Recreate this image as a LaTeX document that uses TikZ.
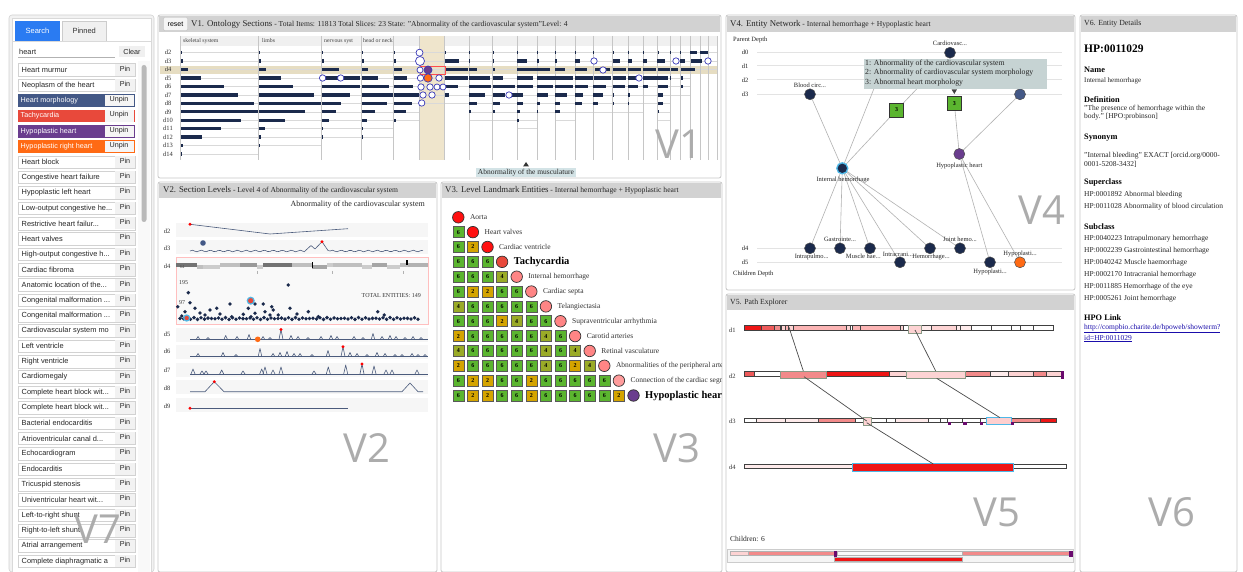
\documentclass[tikz,border=0pt]{standalone}
\usepackage{fontspec}
\setmainfont{Liberation Serif}
\newfontfamily\uisans{Liberation Sans}
\newfontfamily\bigsans{Open Sans}
\newcommand\trd{...}
\definecolor{navy}{HTML}{1B2A4C}
\definecolor{hdrgray}{HTML}{D2D2D2}
\definecolor{panelline}{HTML}{C8C8C8}
\definecolor{beige}{HTML}{EFE5CC}
\definecolor{beigerow}{HTML}{E6DDC2}
\definecolor{ringblue}{HTML}{3A3AB8}
\definecolor{hpurple}{HTML}{6A3D8E}
\definecolor{horange}{HTML}{FF6A14}
\definecolor{hred}{HTML}{E8493B}
\definecolor{hsteel}{HTML}{435886}
\definecolor{sqc6}{HTML}{5BB52F}
\definecolor{sqc4}{HTML}{9AAB27}
\definecolor{sqc2}{HTML}{D4A400}
\definecolor{lred}{HTML}{FF1010}
\definecolor{pinkc}{HTML}{FF8585}
\definecolor{pinkl}{HTML}{FF9C9C}
\definecolor{tipbg}{HTML}{C6D3D3}
\definecolor{sparkc}{HTML}{4B5B7C}
\definecolor{rA}{HTML}{EE1515}
\definecolor{rB}{HTML}{EE5A5A}
\definecolor{rC}{HTML}{F28A8A}
\definecolor{rD}{HTML}{FBB4B4}
\definecolor{rE}{HTML}{FDD3D3}
\definecolor{rF}{HTML}{FEEBEB}
\definecolor{cyanb}{HTML}{4DB8E8}
\definecolor{hlborder}{HTML}{8A9A86}
\definecolor{vpurple}{HTML}{6A0A6E}
\definecolor{linkblue}{HTML}{1A0DAB}
\definecolor{tabblue}{HTML}{2A7BF2}
\definecolor{musc}{HTML}{D3E3E6}
\begin{document}
\begin{tikzpicture}[x=1pt,y=-1pt,
  every node/.style={inner sep=0pt},
  panel/.style={draw=panelline, fill=white, rounded corners=2pt, line width=0.8pt},
  ttl/.style={anchor=west, text=black!85},
  rowline/.style={draw=gray!30, line width=0.4pt},
  sepline/.style={draw=gray!45, line width=0.7pt},
  vcirc/.style={draw=ringblue, fill=white, line width=0.7pt},
  spk/.style={draw=sparkc, line width=0.6pt, line join=round},
  sq/.style={draw=black!65, line width=0.6pt, minimum size=11pt, font=\fontsize{6}{6}\selectfont\bfseries},
  lmk/.style={circle, draw=black!80, line width=0.7pt, minimum size=11.5pt},
  labn/.style={anchor=west, font=\fontsize{7.5}{8}\selectfont, text=black!80},
  labb/.style={anchor=west, font=\bfseries\fontsize{10.5}{11}\selectfont},
  nnode/.style={circle, draw=black!70, fill=navy, minimum size=11pt, line width=0.5pt},
  sqn/.style={draw=black!80, fill=sqc6, minimum size=14pt, line width=0.8pt, font=\fontsize{6}{6}\selectfont\bfseries},
  edge/.style={draw=gray!60, line width=0.6pt},
  nlab/.style={font=\fontsize{6.5}{7}\selectfont, text=black!85},
  seg/.style={draw=black!75, line width=0.5pt},
  hl/.style={draw=hlborder, line width=0.7pt},
  linkc/.style={draw=black!70, line width=0.7pt},
  v6b/.style={anchor=west, font=\bfseries\fontsize{8.3}{9}\selectfont},
  v6t/.style={anchor=west, font=\fontsize{7.5}{8}\selectfont, text=black!85},
  item/.style={draw=gray!35, fill=white, line width=0.5pt},
  itxt/.style={anchor=west, font=\uisans\fontsize{7.4}{8}\selectfont, text=black!85},
  pinb/.style={font=\uisans\fontsize{7.2}{8}\selectfont, text=black!85},
  biglab/.style={font=\bigsans\fontsize{40}{40}\selectfont, text=gray!65},
  btn/.style={draw=gray!50, fill=gray!8, rounded corners=1pt, font=\uisans\fontsize{7}{8}\selectfont},
  rlab/.style={font=\fontsize{6.5}{7}\selectfont, text=black!80}
]
\useasboundingbox (0,0) rectangle (1243,572);
\fill[white] (0,0) rectangle (1243,572);

% ================= V7 =================
\fill[gray!10, rounded corners=3pt] (9,15) rectangle (154,572);
\draw[gray!35, rounded corners=3pt, line width=0.6pt] (9,15) rectangle (154,572);
\fill[white] (12,18) rectangle (151,572);
\draw[gray!30] (12,18) rectangle (151,572);
\node[fill=tabblue, minimum width=45pt, minimum height=20pt, font=\uisans\fontsize{7.5}{9}\selectfont, text=white] (tabS) at (37.5,31) {Search};
\node[draw=gray!40, fill=gray!12, minimum width=44pt, minimum height=20pt, font=\uisans\fontsize{7.5}{9}\selectfont, text=black!80] (tabP) at (84.2,31) {Pinned};
\draw[gray!30] (12,41.5) -- (151,41.5);
\node[itxt] (q) at (19,51.5) {heart};
\draw[gray!60, line width=0.5pt] (18,57.7) -- (115,57.7);
\node[fill=gray!12, minimum width=26pt, minimum height=11pt, pinb] (clr) at (132,52) {Clear};
\fill[gray!5] (138,61) rectangle (150,572);
\fill[gray!55, rounded corners=2.5pt] (141.5,65) rectangle (146.5,222);
\foreach \t [count=\i] in {Heart murmur, Neoplasm of the heart, Heart morphology, Tachycardia, Hypoplastic heart, Hypoplastic right heart, Heart block, Congestive heart failure, Hypoplastic left heart, Low-output congestive he\trd, Restrictive heart failur\trd, Heart valves, High-output congestive h\trd, Cardiac fibroma, Anatomic location of the\trd, Congenital malformation \trd, Congenital malformation \trd, Cardiovascular system mo, Left ventricle, Right ventricle, Cardiomegaly, Complete heart block wit\trd, Complete heart block wit\trd, Bacterial endocarditis, Atrioventricular canal d\trd, Echocardiogram, Endocarditis, Tricuspid stenosis, Univentricular heart wit\trd, Left-to-right shunt, Right-to-left shunt, Atrial arrangement, Complete diaphragmatic a}{
  \pgfmathsetmacro\yy{70+15.35*(\i-1)}
  \ifnum\i<3 \def\plain{1}\else\ifnum\i>6 \def\plain{1}\else\def\plain{0}\fi\fi
  \ifnum\plain=1
    \draw[item] (18,\yy-6.3) rectangle (135,\yy+6.3);
    \begin{scope}
      \clip (18,\yy-6.3) rectangle (115,\yy+6.3);
      \node[itxt] at (21.5,\yy) {\t};
    \end{scope}
    \fill[gray!10] (115,\yy-6) rectangle (134.7,\yy+6);
    \node[pinb] at (125,\yy-1.5) {Pin};
  \fi
}
\foreach \i/\t/\c in {3/Heart morphology/hsteel, 4/Tachycardia/hred, 5/Hypoplastic heart/hpurple, 6/Hypoplastic right heart/horange}{
  \pgfmathsetmacro\yy{70+15.35*(\i-1)}
  \fill[\c] (18,\yy-6.3) rectangle (135,\yy+6.3);
  \fill[gray!8] (104.5,\yy-5.6) rectangle (133.5,\yy+5.6);
  \node[itxt, text=white, font=\uisans\fontsize{7.2}{8}\selectfont] at (20.5,\yy) {\t};
  \node[pinb] at (119,\yy-1) {Unpin};
}

% ================= V1 =================
\draw[panel] (158,15) rectangle (721,178);
\fill[hdrgray] (159,16) rectangle (720,32);
\node[btn, minimum width=24pt, minimum height=13pt] (reset) at (175.5,24) {reset};
\node[ttl] (v1t) at (191,24) {\fontsize{8.8}{10}\selectfont V1. Ontology Sections\fontsize{7.6}{8}\selectfont{} - Total Items: 11813 Total Slices: 23 State: "Abnormality of the cardiovascular system"Level: 4};
\fill[gray!12] (180,36) rectangle (717,46);
\fill[beigerow] (160,66) rectangle (718,74.3);
\fill[beige] (419,36) rectangle (444,160);
\fill[beigerow!70!beige] (419,66) rectangle (444,74.3);
\foreach \t/\x in {skeletal system/183, limbs/262, nervous syst/324, head or neck/363}
  \node[anchor=west, font=\fontsize{5.8}{6}\selectfont, text=black!75] at (\x,41) {\t};
\foreach \r in {2,...,14}
  \node[rlab] at (168,{52.7+8.44*(\r-2)}) {d\r};
\foreach \a/\b/\d in {180/258/14, 258/321/13, 321/361/12, 361/393/12, 393/419/10, 419/444/8, 444/469/8, 469/492/10, 492/517/10, 517/537/11, 537/555/9, 555/575/10, 575/593/9, 593/612/9, 612/628/9, 628/643/9, 643/657/8, 657/670/10, 670/680/7, 680/690/7, 690/700/4, 700/708/4, 708/717/4}
  \foreach \r in {2,...,\d}
    \draw[rowline] (\a,{52.7+8.44*(\r-2)}) -- (\b,{52.7+8.44*(\r-2)});
\foreach \x in {180, 258, 321, 361, 393, 419, 444, 469, 492, 517, 537, 555, 575, 593, 612, 628, 643, 657, 670, 680, 690, 700, 708, 717}
  \draw[sepline] (\x,36) -- (\x,160);
\foreach \xo/\lens in {181/{1,2,7,20,43,57,73,77,60,40,21,2,1}, 259/{1,2,7,22,34,55,62,46,26,6,2,1}, 322/{1,2,17,38,38,28,19,14,7,1,1}, 362/{1,2,6,16,27,31,25,13,5,1,1}, 394/{1,2,8,13,19,25,18,12,2}}
  \foreach \L [count=\r from 2] in \lens
    \fill[navy] (\xo,{52.7+8.44*(\r-2)-1.7}) rectangle ({\xo+\L},{52.7+8.44*(\r-2)+1.7});
\foreach \a/\b/\r in {445/446/2, 469/470/2, 493/494/2, 517/518/2, 537/538/2, 555/556/2, 575/576/2, 593/594/2, 613/614/2, 628/629/2, 643/644/2, 658/659/2, 670/671/2, 680/681/2, 690/697/2, 700/708/2,
  445/459/3, 469/470/3, 493/494/3, 517/527/3, 537/539/3, 555/557/3, 575/580/3, 613/620/3, 628/632/3, 643/647/3, 657/665/3, 680/685/3, 691/702/3,
  445/468/4, 469/477/4, 493/495/4, 517/550/4, 555/565/4, 575/587/4, 595/610/4, 613/626/4, 628/641/4, 643/656/4, 658/670/4, 671/678/4, 681/695/4,
  445/468/5, 469/490/5, 493/503/5, 517/533/5, 537/573/5, 575/593/5, 594/611/5, 613/626/5, 628/638/5, 643/668/5, 670/671/5, 681/683/5,
  445/458/6, 469/491/6, 493/515/6, 517/533/6, 537/553/6, 555/573/6, 575/588/6, 593/606/6, 613/625/6, 628/638/6, 643/648/6, 658/668/6, 681/683/6,
  445/449/7, 469/485/7, 493/505/7, 512/523/7, 537/548/7, 555/567/7, 575/583/7, 593/603/7, 613/614/7, 628/630/7, 658/663/7,
  469/477/8, 493/500/8, 517/523/8, 537/540/8, 555/560/8, 575/582/8, 593/598/8, 613/614/8, 628/629/8, 658/663/8,
  469/471/9, 493/495/9, 517/520/9, 537/538/9, 555/560/9, 658/659/9, 517/519/10}
  \fill[navy] (\a,{52.7+8.44*(\r-2)-1.7}) rectangle (\b,{52.7+8.44*(\r-2)+1.7});
\draw[red!70, line width=0.8pt] (420,66) rectangle (445,74.3);
\foreach \cx/\cy/\cr in {322.6/78/3.2, 340.7/78/3.2, 594/61/3.2, 676/61/3.2, 708/61/3.2, 603/70/3.2, 639/78/3.2, 509/95/3.2, 419.5/52.7/3.5, 420/61/4.5, 420.5/78/3.2, 439/78/3.2, 421/87/3.2, 430/87/3.2, 437/87/3, 443/87/3, 423/95/3.2, 432/95/3.2, 421.7/103/3.2, 420/70/3}
  \draw[vcirc] (\cx,\cy) circle (\cr pt);
\draw[draw=ringblue, fill=hpurple, line width=0.7pt] (428,70) circle (4pt);
\draw[draw=ringblue, fill=horange, line width=0.7pt] (428,78) circle (4.2pt);
\node[fill=musc, inner sep=1.5pt, font=\fontsize{7.5}{8}\selectfont, text=black!85] (musc) at (526,172.5) {Abnormality of the musculature};
\fill[black!80] (523,166.5) -- (529,166.5) -- (526,162) -- cycle;

% ================= V2 =================
\draw[panel] (158,182) rectangle (437,572);
\fill[hdrgray] (159,183) rectangle (436,198);
\node[ttl] (v2t) at (163,190.5) {\fontsize{8.8}{10}\selectfont V2. Section Levels\fontsize{7.6}{8}\selectfont{} - Level 4 of Abnormality of the cardiovascular system};
\node[anchor=east, font=\fontsize{8}{9}\selectfont, text=black!85] (v2s) at (425,205) {Abnormality of the cardiovascular system};
\foreach \a/\b in {222.7/236.7, 240/254, 327.7/341.7, 345/359, 362.7/376.7, 380/394, 397.7/411.7}
  \fill[gray!7] (176,\a) rectangle (428,\b);
\draw[draw=red!25, fill=gray!5, line width=0.8pt] (176,257.7) rectangle (428,324);
\foreach \t/\y in {d2/231, d3/248.3, d4/266, d5/334.3, d6/351.7, d7/370, d8/388.3, d9/406}
  \node[rlab] at (167,\y) {\t};
\draw[spk] (190,224.3) -- (270,234) -- (348,228.7);
\fill[red] (190,224.3) circle (1.6pt);
\draw[spk] plot[domain=190:305, samples=50] (\x,{251-0.8*sin((\x-190)*40)});
\draw[spk] (305,251) -- (311,245.5) -- (315,249) -- (322,241.7) -- (328,250.5) -- (330,251);
\draw[spk] plot[domain=330:423, samples=40] (\x,{251-0.8*sin((\x-330)*40)});
\fill[red] (322,241.7) circle (1.6pt);
\fill[hsteel] (203,243) circle (2.8pt);
\foreach \a/\b/\g/\o in {176/197/55/0, 197/203/25/1, 203/220/20/1, 220/240/25/0, 240/257/40/0, 257/263/20/1, 263/292/55/0, 292/312/25/0, 312/327/35/1, 327/333/20/0, 333/362/25/0, 362/372/20/1, 372/387/35/0, 387/400/20/1, 400/408/25/0, 408/428/30/0}
  \fill[black!\g] (\a,{263.3+2*\o}) rectangle (\b,{267.3+2*\o});
\fill[black] (312,262.5) rectangle (313.2,268);
\fill[black] (406,260.5) rectangle (407.5,265);
\foreach \x in {257, 332, 403} \draw[gray!60] (\x,271) -- (\x,274);
\node[font=\fontsize{4.5}{5}\selectfont, text=black!70] at (182,267) {64};
\node[anchor=west, font=\fontsize{6}{7}\selectfont, text=black!80] at (179,283) {195};
\node[anchor=west, font=\fontsize{6}{7}\selectfont, text=black!80] at (179,302.7) {97};
\node[anchor=east, font=\fontsize{6}{7}\selectfont, text=black!80] at (421,295.7) {TOTAL ENTITIES: 149};
\foreach \x/\y in {188.3/292.7, 288.3/285, 177.7/306.7, 190/302.7, 195/308.3, 185/311.7, 181.7/316, 210/310, 216.7/308.3, 230/304, 248.3/308.3, 255/304, 263.3/304, 271.7/306.7, 273.3/310, 265/311.7, 255/313.3, 243.3/314.3, 290/308.3, 308.3/311.7, 270/315, 278.3/315, 318.3/316.7, 377.7/311.7, 384.3/315, 251/316.7, 205/315, 231.7/316.7, 200/313, 220/314, 297/314}
  \fill[navy] (\x,\y) circle (1.9pt);
\foreach \x in {180,183.5,...,420}
  \fill[navy] (\x,{318.5-0.9*sin((\x-180)*57)}) circle (1.9pt);
\draw[cyanb, fill=hred, line width=1.2pt] (250.7,300.7) circle (3.4pt);
\draw[cyanb, fill=hred, line width=1.2pt] (186.7,318) circle (3pt);
\draw[spk] (190,339.5) -- (428,339.5);
\foreach \sx/\sh in {198/3, 208/2, 225.7/4, 237/3, 249/5, 263/3, 270/2, 291/4, 298/3, 308/2, 321/3, 331/4, 337/3, 354/3, 363/2, 373/6, 382/3, 390/4, 396/3, 405/2, 413/3, 421/2}
  \draw[spk] (\sx-1.8,339.5) -- (\sx,339.5-\sh) -- (\sx+1.8,339.5);
\draw[spk] (279,339.5) -- (281,329.5) -- (283,339.5);
\fill[red] (281,329.5) circle (1.6pt);
\fill[horange] (257.7,339.3) circle (2.8pt);
\draw[spk] (190,356.5) -- (428,356.5);
\foreach \sx/\sh in {198/3, 223/4, 236/2, 260/8, 273/3, 280/4, 287/5, 294/3, 300/3, 312/2, 328/6, 350/4, 357/3, 367/2, 377/4, 385/3, 395/2, 402/2, 412/3, 418/2, 425/2}
  \draw[spk] (\sx-1.8,356.5) -- (\sx,356.5-\sh) -- (\sx+1.8,356.5);
\draw[spk] (341,356.5) -- (343,346.7) -- (345,356.5);
\fill[red] (343,346.7) circle (1.6pt);
\draw[spk] (190,374) -- (428,374);
\foreach \sx/\sh in {193/5, 202/3, 206/3, 221.7/4, 243/3, 261.7/5, 265/7, 273/4, 281/7, 314/3, 328.3/7, 345.7/9, 374/8, 386/4, 392/4, 417/4}
  \draw[spk] (\sx-2,374) -- (\sx,374-\sh) -- (\sx+2,374);
\draw[spk] (360,374) -- (362,364) -- (364,374);
\fill[red] (362,364) circle (1.6pt);
\draw[spk] (190,391.7) -- (205,391.7) -- (214.3,381.7) -- (224,391.7) -- (402,391.7) -- (410,383) -- (418,391.7) -- (423,391.7);
\fill[red] (214.3,381.7) circle (1.6pt);
\draw[spk] (190,408.3) -- (348,408.3);
\fill[red] (190,408.3) circle (1.6pt);

% ================= V3 =================
\draw[panel] (441,182) rectangle (722,572);
\fill[hdrgray] (442,183) rectangle (721,198);
\node[ttl] (v3t) at (445,190.5) {\fontsize{8.8}{10}\selectfont V3. Level Landmark Entities\fontsize{7.6}{8}\selectfont{} - Internal hemorrhage + Hypoplastic heart};
\begin{scope}
\clip (442,199) rectangle (721,571);
\foreach \vals [count=\k from 2] in {{6},{6,2},{6,6,6},{6,6,6,4},{6,2,2,6,6},{4,6,6,6,6,6},{6,6,6,2,4,6,6},{2,6,6,6,6,6,4,6},{4,6,6,6,6,6,4,6,4},{2,6,6,6,6,6,4,6,2,4},{6,2,2,6,6,2,6,6,6,6,6},{6,2,2,6,6,2,6,6,6,6,6,2}}{
  \pgfmathsetmacro\yy{217.3+(\k-1)*14.85}
  \foreach \v [count=\i] in \vals {
    \pgfmathsetmacro\xx{458.3+(\i-1)*14.6}
    \node[sq, fill=sqc\v] at (\xx,\yy) {\v};
  }
}
\foreach \c/\t/\f [count=\k] in {lred/Aorta/n, lred/Heart valves/n, lred/Cardiac ventricle/n, hred/Tachycardia/b, pinkc/Internal hemorrhage/n, pinkc/Cardiac septa/n, pinkc/Telangiectasia/n, pinkc/Supraventricular arrhythmia/n, pinkc/Carotid arteries/n, pinkc/Retinal vasculature/n, pinkc/Abnormalities of the peripheral arteries/n, pinkl/Connection of the cardiac segments/n, hpurple/Hypoplastic heart/b}{
  \pgfmathsetmacro\yy{217.3+(\k-1)*14.85}
  \pgfmathsetmacro\xx{458.3+(\k-1)*14.6}
  \node[lmk, fill=\c] (lm\k) at (\xx,\yy) {};
  \node[lab\f] at (\xx+11.5,\yy) {\t};
}
\end{scope}

% ================= V4 =================
\draw[panel] (726,15) rectangle (1075,290);
\fill[hdrgray] (727,16) rectangle (1074,31.7);
\node[ttl] (v4t) at (730,24) {\fontsize{8.8}{10}\selectfont V4. Entity Network\fontsize{7.6}{8}\selectfont{} - Internal hemorrhage + Hypoplastic heart};
\node[anchor=west, nlab] at (733,40) {Parent Depth};
\node[anchor=west, nlab] at (733,274.3) {Children Depth};
\foreach \t/\y in {d0/52.7, d1/66, d2/80, d3/94.3, d4/248.3, d5/262.3}{
  \node[nlab] at (745,\y) {\t};
  \draw[gray!22, line width=1pt] (757,\y) -- (1062,\y);
}
\coordinate (hid1) at (876.7,81.7);
\coordinate (hid2) at (916.7,89);
\coordinate (pbc) at (810,94.3);
\coordinate (prn) at (1020,94.3);
\coordinate (pih) at (842.3,168.3);
\coordinate (phh) at (959.3,154);
\coordinate (psqL) at (896.7,110);
\coordinate (psqR) at (954.3,103.3);
\foreach \n/\x/\y in {pc1/810/248.3, pc2/840/248.3, pc3/870/248.3, pc5/930/248.3, pc6/960/248.3, pc4/900/262.3, php1/990/262.3, php2/1020/262.3}
  \coordinate (\n) at (\x,\y);
\foreach \a/\b in {pih/pbc, pih/psqL, pih/pc1, pih/pc2, pih/pc3, pih/pc4, pih/pc5, pih/pc6, psqR/phh, prn/phh, phh/php1, phh/php2, pih/hid1, psqL/hid2}
  \draw[edge] (\a) -- (\b);
\node[nnode] (cv) at (950,52.7) {};
\node[nnode] (bc) at (pbc) {};
\node[nnode, fill=hsteel] (rn) at (prn) {};
\node[nnode, draw=cyanb, line width=1.3pt] (ih) at (pih) {};
\node[nnode, fill=hpurple] (hh) at (phh) {};
\foreach \n in {c1,c2,c3,c4,c5,c6,hp1} \node[nnode] (\n) at (p\n) {};
\node[nnode, fill=horange] (hp2) at (php2) {};
\node[sqn] (sqL) at (psqL) {3};
\node[sqn] (sqR) at (psqR) {3};
\node[nlab] at (950,43.7) {Cardiovasc...};
\node[nlab] at (810,85.5) {Blood circ...};
\node[nlab] at (843,180) {Internal hemorrhage};
\node[nlab] at (959.3,166) {Hypoplastic heart};
\node[nlab] at (811.7,256.7) {Intrapulmo...};
\node[nlab] at (840,239.3) {Gastrointe...};
\node[nlab] at (863.3,256.7) {Muscle hae...};
\node[nlab] at (898,254) {Intracrani...};
\node[nlab] at (931,256.7) {Hemorrhage...};
\node[nlab] at (960,239.3) {Joint hemo...};
\node[nlab] at (990,271.7) {Hypoplasti...};
\node[nlab] at (1020,254) {Hypoplasti...};
\node[fill=tipbg, minimum width=183pt, minimum height=29.7pt, anchor=north west] (tip) at (863.3,59.3) {};
\node[anchor=north west, align=left, font=\fontsize{7.8}{9.6}\selectfont, text=black!85] (tiptxt) at (865,59.5) {1: Abnormality of the cardiovascular system\\2: Abnormality of cardiovascular system morphology\\3: Abnormal heart morphology};
\fill[black!75] (951.5,89.3) -- (957.1,89.3) -- (954.3,94) -- cycle;

% ================= V5 =================
\draw[panel] (726,294) rectangle (1075,572);
\fill[hdrgray] (727,295) rectangle (1074,310);
\node[ttl, font=\fontsize{7.8}{9}\selectfont] (v5t) at (730,302.5) {V5. Path Explorer};
\foreach \t/\y in {d1/330, d2/376, d3/421.7, d4/467.7}
  \node[anchor=west, rlab] at (729,\y) {\t};
\coordinate (p1a) at (789,327.3); \coordinate (p1b) at (803.3,371);
\coordinate (p2a) at (915,330); \coordinate (p2b) at (935.7,371);
\coordinate (p3a) at (804,376.7); \coordinate (p3b) at (866.7,421);
\coordinate (p4a) at (936.7,378.3); \coordinate (p4b) at (1000,417.7);
\coordinate (p5a) at (866.7,422.7); \coordinate (p5b) at (933.3,464);
\foreach \a/\b/\c in {744.3/761/rA, 761/774.3/rB, 774.3/780/rC, 780/781.7/rD, 781.7/785/rE, 785/788.3/rD, 788.3/793.3/rE, 793.3/846.7/rD, 846.7/850/rE, 850/852.7/white, 852.7/860/rD, 860/900/rD, 900/903.3/rE, 903.3/908.3/white, 921.7/931.7/rF, 931.7/956.7/rE, 956.7/960/rF, 960/971.7/rF, 971.7/991.7/white, 991.7/1011.7/white, 1011.7/1020/white, 1020/1033.3/white, 1033.3/1053.3/white}
  \draw[seg, fill=\c] (\a,325.5) rectangle (\b,330.5);
\draw[hl, fill=rE] (908.3,325) rectangle (921.7,333);
\foreach \a/\b/\c in {744.3/754.3/rB, 754.3/780/white, 826.7/889/rA, 889/906.7/rE, 965/990/rC, 990/1008.3/rF, 1008.3/1033.3/rE, 1033.3/1046.7/rC, 1046.7/1061/rE}
  \draw[seg, fill=\c] (\a,371) rectangle (\b,376);
\draw[hl, fill=rC] (780,371) rectangle (826.7,378.7);
\draw[hl, fill=rE] (906.7,371) rectangle (965,378.7);
\fill[vpurple] (1061,371) rectangle (1064.3,379.3);
\foreach \a/\b/\c in {744.3/756.7/white, 756.7/785/rF, 785/818.3/rF, 818.3/855/rC, 855/863.3/white, 871/886.7/white, 886.7/895/white, 895/928.3/rF, 928.3/940/white, 940/947.7/white, 947.7/962.3/white, 962.3/980/white, 980/986.7/white, 1011/1040/rC, 1040/1056/rA}
  \draw[seg, fill=\c] (\a,417.8) rectangle (\b,422.3);
\draw[hl, fill=rE] (863.3,417.8) rectangle (871,425);
\draw[cyanb, fill=rE!80!pink, line width=0.8pt] (986.7,417.8) rectangle (1011,424.5);
\foreach \a in {947.7, 963.3, 980, 1011}
  \fill[vpurple] (\a,422.3) rectangle (\a+3.3,425.3);
\foreach \a/\b/\c in {744.3/852.3/rF, 1013.3/1066.7/white}
  \draw[seg, fill=\c] (\a,463.8) rectangle (\b,468.3);
\draw[cyanb, fill=rA, line width=0.8pt] (852.3,463.8) rectangle (1013.3,471.5);
\foreach \a/\b in {p1a/p1b, p2a/p2b, p3a/p3b, p4a/p4b, p5a/p5b}
  \draw[linkc] (\a) -- (\b);
\node[anchor=west, font=\fontsize{7.5}{8}\selectfont, text=black!85] at (730,539.3) {Children: 6};
\draw[gray!40, fill=gray!8] (726.7,549.3) rectangle (1073.3,561.7);
\draw[gray!60, fill=rE, line width=0.4pt] (730,551) rectangle (747.7,555);
\draw[gray!60, fill=rC, line width=0.4pt] (747.7,551) rectangle (834.3,555);
\draw[gray!60, fill=gray!5, line width=0.4pt] (836.7,551) rectangle (962.3,555);
\draw[gray!60, fill=rC, line width=0.4pt] (962.3,551) rectangle (1069.3,555);
\fill[vpurple] (834.3,551) rectangle (836.7,557);
\fill[vpurple] (1069.3,551) rectangle (1072.7,557);
\draw[gray!60, fill=rA, line width=0.4pt] (834.3,556.7) rectangle (962.3,560.7);

% ================= V6 =================
\draw[panel] (1080,15) rectangle (1237,572);
\fill[hdrgray] (1081,16) rectangle (1236,31.7);
\node[ttl, font=\fontsize{7.8}{9}\selectfont] (v6t) at (1084,24) {V6. Entity Details};
\node[anchor=west, font=\bfseries\fontsize{11.5}{12}\selectfont] at (1084,48.3) {HP:0011029};
\foreach \t/\y in {Name/70, Definition/99.3, Synonym/138, Superclass/182.3, Subclass/226.7, HPO Link/317.3}
  \node[v6b] at (1084,\y) {\t};
\node[v6t, font=\fontsize{7}{8}\selectfont] at (1084,80.7) {Internal hemorrhage};
\node[v6t] at (1084,108.7) {"The presence of hemorrhage within the};
\node[v6t] at (1084,116.9) {body." [HPO:probinson]};
\node[v6t] at (1084,156) {"Internal bleeding" EXACT [orcid.org/0000-};
\node[v6t] at (1084,164.7) {0001-5208-3432]};
\foreach \t [count=\i] in {HP:0001892 Abnormal bleeding, HP:0011028 Abnormality of blood circulation}
  \node[v6t] at (1084,{194.3+12.3*(\i-1)}) {\t};
\foreach \t [count=\i] in {HP:0040223 Intrapulmonary hemorrhage, HP:0002239 Gastrointestinal hemorrhage, HP:0040242 Muscle haemorrhage, HP:0002170 Intracranial hemorrhage, HP:0011885 Hemorrhage of the eye, HP:0005261 Joint hemorrhage}
  \node[v6t] at (1084,{238.3+12*(\i-1)}) {\t};
\node[v6t, text=linkblue] at (1084,328.3) {\underline{http://compbio.charite.de/hpoweb/showterm?}};
\node[v6t, text=linkblue] at (1084,338.5) {\underline{id=HP:0011029}};

% ================= big labels =================
\node[biglab] at (679,144) {V1};
\node[biglab] at (367,448) {V2};
\node[biglab] at (677,448) {V3};
\node[biglab] at (1042,210) {V4};
\node[biglab] at (997,512) {V5};
\node[biglab] at (1172,512) {V6};
\node[biglab] at (98,529) {V7};
\end{tikzpicture}
\end{document}
